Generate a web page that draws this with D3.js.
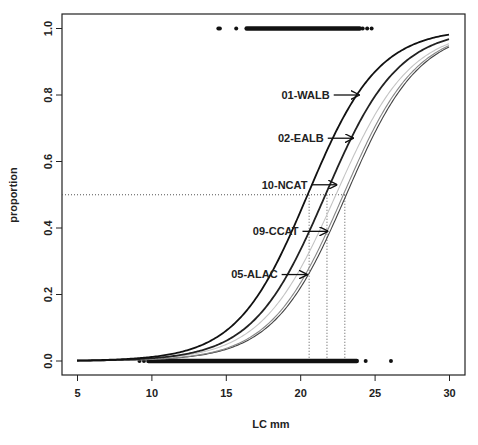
<!DOCTYPE html><html><head><script src="https://cdn.jsdelivr.net/npm/d3@7"></script>
<style>body{margin:0;background:#fff}text{font-family:"Liberation Sans",Arial,sans-serif;font-weight:bold}</style></head><body>
<svg id="c" width="478" height="445"></svg>
<script>
const series = ["01-WALB","02-EALB","10-NCAT","09-CCAT","05-ALAC"];
const l50 = [20.5, 21.7, 22.4, 22.9, 23.1];
const slopes = [0.42, 0.41, 0.40, 0.41, 0.41];
const colors = ["#111","#222","#c4c4c4","#888","#444"];
const widths = [1.8,1.8,1.1,1.1,1.1];
const arrowTip = [[24.0,0.80],[23.6,0.67],[22.5,0.53],[21.9,0.39],[20.5,0.26]];
const refL50 = [20.6, 21.8, 23.0];
const topDots = [14.5,14.6,15.7,24.2,24.5,24.8];
const topDense = [16.4,24.0];
const botDots = [9.2,9.5,24.4,26.1];
const botDense = [9.8,23.8];
const xTicks = [5,10,15,20,25,30];
const yTicks = [0,0.2,0.4,0.6,0.8,1.0];

const svg = d3.select("#c");
const x = d3.scaleLinear().domain([5,30]).range([77,449]);
const y = d3.scaleLinear().domain([0,1]).range([361,28.5]);
const L = 62, R = 465, T = 14, B = 375;
svg.append("rect").attr("x",L).attr("y",T).attr("width",R-L).attr("height",B-T).attr("fill","none").attr("stroke","#222").attr("stroke-width",1.2);
const xa = svg.append("g").attr("transform",`translate(0,${B})`).call(d3.axisBottom(x).tickValues(xTicks).tickSize(6).tickFormat(d3.format("d")));
const ya = svg.append("g").attr("transform",`translate(${L},0)`).call(d3.axisLeft(y).tickValues(yTicks).tickSize(6).tickFormat(d3.format(".1f")));
[xa,ya].forEach(a=>{a.select(".domain").remove();a.selectAll("line").attr("stroke","#222");a.selectAll("text").attr("font-size",11).attr("fill","#222").style("font-family","Liberation Sans").style("font-weight","bold");});
xa.selectAll("text").attr("dy","1.2em");
ya.selectAll(".tick").each(function(d){const t=d3.select(this);t.attr("transform",null);t.select("line").attr("y1",y(d)).attr("y2",y(d));t.select("text").attr("x",-10).attr("y",y(d)).attr("dy",0).attr("text-anchor","middle").attr("transform",`rotate(-90,-10,${y(d)})`);});
svg.append("text").attr("x",(x(5)+x(30))/2+8).attr("y",428).attr("text-anchor","middle").attr("font-size",11).attr("fill","#222").text("LC mm");
svg.append("text").attr("transform","translate(17,195) rotate(-90)").attr("text-anchor","middle").attr("font-size",11).attr("fill","#222").text("proportion");

svg.append("line").attr("x1",L).attr("x2",x(23.0)).attr("y1",y(0.5)).attr("y2",y(0.5)).attr("stroke","#555").attr("stroke-dasharray","1,2");
refL50.forEach(v=>svg.append("line").attr("x1",x(v)).attr("x2",x(v)).attr("y1",y(0.5)).attr("y2",y(0)).attr("stroke","#555").attr("stroke-dasharray","1,2"));

[[topDense,1],[botDense,0]].forEach(([r,v])=>svg.append("line").attr("x1",x(r[0])).attr("x2",x(r[1])).attr("y1",y(v)).attr("y2",y(v)).attr("stroke","#111").attr("stroke-width",4.5).attr("stroke-linecap","round"));
topDots.forEach(v=>svg.append("circle").attr("cx",x(v)).attr("cy",y(1)).attr("r",2).attr("fill","#111"));
botDots.forEach(v=>svg.append("circle").attr("cx",x(v)).attr("cy",y(0)).attr("r",2).attr("fill","#111"));

const xs = d3.range(5,30.001,0.1);
const line = d3.line().x(d=>x(d[0])).y(d=>y(d[1]));
[4,3,2,1,0].forEach(i=>{
  const pts = xs.map(v=>[v,1/(1+Math.exp(-slopes[i]*(v-l50[i])))]);
  svg.append("path").attr("d",line(pts)).attr("fill","none").attr("stroke",colors[i]).attr("stroke-width",widths[i]);
});

const defs = svg.append("defs");
defs.append("marker").attr("id","ah").attr("viewBox","0 0 10 10").attr("refX",10).attr("refY",5).attr("markerWidth",7).attr("markerHeight",7).attr("orient","auto")
 .append("path").attr("d","M0,0 L10,5 L0,10").attr("fill","none").attr("stroke","#111").attr("stroke-width",1.5);
series.forEach((s,i)=>{
  const tx = x(arrowTip[i][0]), ty = y(arrowTip[i][1]);
  svg.append("line").attr("x1",tx-26).attr("x2",tx).attr("y1",ty).attr("y2",ty).attr("stroke","#111").attr("stroke-width",1.3).attr("marker-end","url(#ah)");
  svg.append("text").attr("x",tx-30).attr("y",ty).attr("dy","0.35em").attr("text-anchor","end").attr("font-size",11).attr("fill","#222").text(s);
});
</script></body></html>
